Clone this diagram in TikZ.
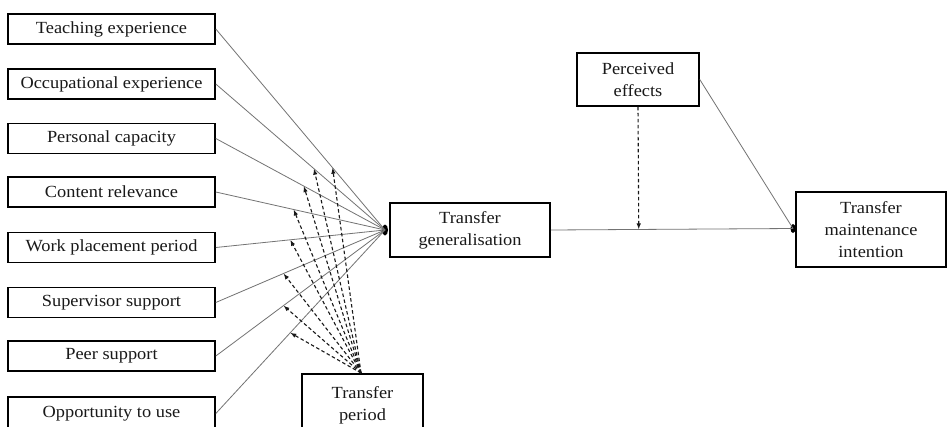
\documentclass[tikz,border=0pt]{standalone}
\usepackage{fontspec}
\setmainfont{Liberation Serif}[FakeStretch=1.08]
\usetikzlibrary{arrows.meta,calc,shapes.geometric}
\begin{document}
\begin{tikzpicture}[x=1pt,y=-1pt,
  box/.style={draw=black,line width=1.6pt,fill=white,inner sep=0pt,align=center,
    text=black!90,font=\fontsize{17}{22}\selectfont},
  lbox/.style={box,minimum width=207pt,minimum height=30pt},
  link/.style={draw=black!55,line width=0.8pt},
  moder/.style={draw=black!90,line width=1.1pt,dash pattern=on 3.5pt off 2.5pt,
    -{Latex[length=6pt,width=4.5pt]}},
  blobstyle/.style={fill=black,ellipse,inner sep=0pt}]
\useasboundingbox (0,0) rectangle (948,426);
\fill[white] (0,0) rectangle (948,426);
% left boxes
\node[lbox] (L1) at (111.5,29) {Teaching experience};
\node[lbox] (L2) at (111.5,84) {Occupational experience};
\node[lbox] (L3) at (111.5,138.5) {Personal capacity};
\node[lbox] (L4) at (111.5,192) {Content relevance};
\node[lbox] (L5) at (111.5,247.5) {Work placement period};
\node[lbox] (L6) at (111.5,302.5) {Supervisor support};
\node[lbox] (L7) at (111.5,356) {Peer support};
\node[lbox,minimum height=33pt] (L8) at (111.5,413.5) {Opportunity to use};
% central boxes
\node[box,minimum width=160pt,minimum height=54pt] (TG) at (470,230) {Transfer\\generalisation};
\node[box,minimum width=122pt,minimum height=53pt] (PE) at (638,79.5) {Perceived\\effects};
\node[box,minimum width=150pt,minimum height=75pt] (TMI) at (871,229.5) {Transfer\\maintenance\\intention};
\node[box,minimum width=121pt,minimum height=62pt] (TP) at (362.5,405) {Transfer\\period};
% blobs
\node[blobstyle,minimum width=6pt,minimum height=11pt] (B1) at (385,230) {};
\node[blobstyle,minimum width=5pt,minimum height=9pt] (B2) at (793,228.5) {};
\coordinate (tp) at (361,373);
% solid links
\foreach \i in {1,...,8} {\draw[link] (L\i.east) -- (B1.center);}
\draw[link] (TG.east) -- (B2.center);
\draw[link] (PE.east) -- (B2.center);
% moderation arrows
\foreach \i/\t in {1/0.69,2/0.58,3/0.52,4/0.46,5/0.44,6/0.40,7/0.40,8/0.44} {
  \coordinate (m\i) at ($(L\i.east)!\t!(B1.center)$);
  \draw[moder] (tp) -- (m\i);
}
\coordinate (pm) at ($(TG.east)!(PE.south)!(B2.center)$);
\draw[moder] (PE.south) -- (pm);
\end{tikzpicture}
\end{document}
